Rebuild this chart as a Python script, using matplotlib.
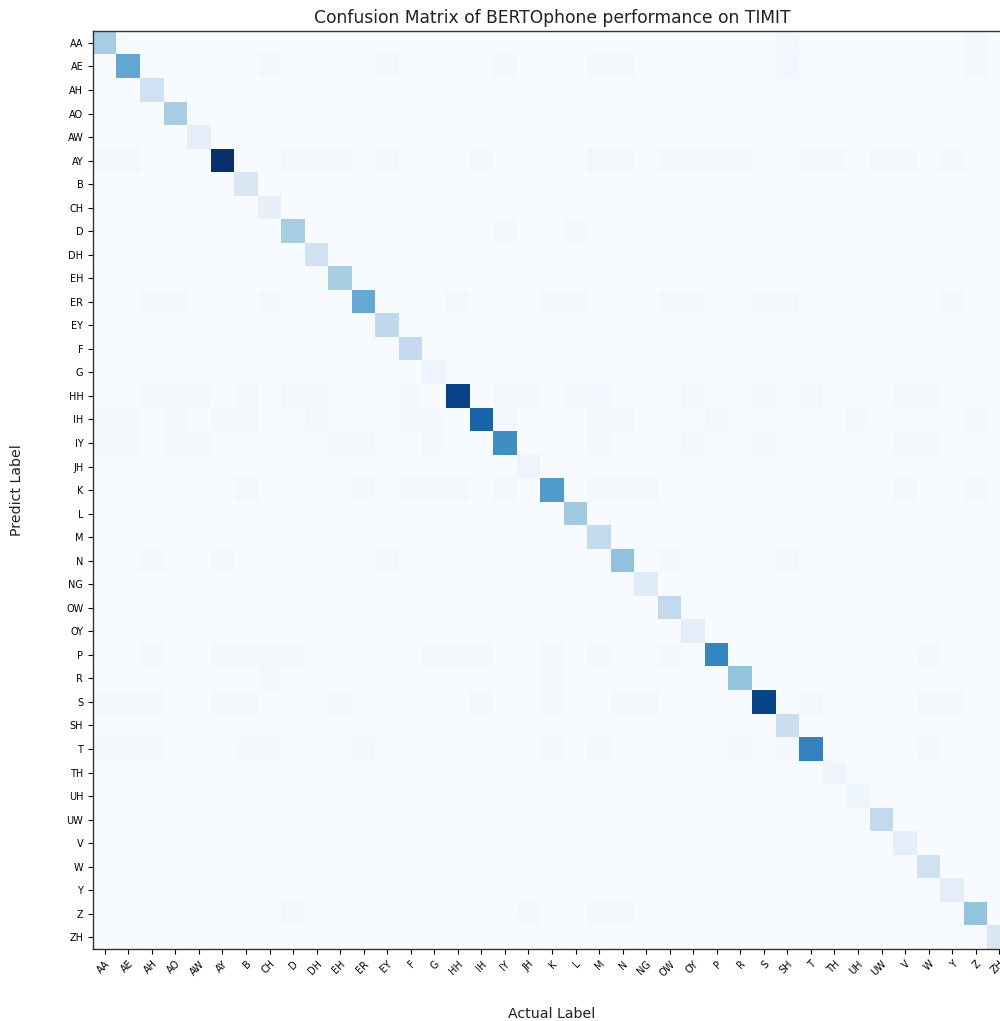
import numpy as np
import matplotlib
matplotlib.use('Agg')
import matplotlib.pyplot as plt

labels = ['AA', 'AE', 'AH', 'AO', 'AW', 'AY', 'B', 'CH', 'D', 'DH', 'EH', 'ER', 'EY',
          'F', 'G', 'HH', 'IH', 'IY', 'JH', 'K', 'L', 'M', 'N', 'NG', 'OW', 'OY',
          'P', 'R', 'S', 'SH', 'T', 'TH', 'UH', 'UW', 'V', 'W', 'Y', 'Z', 'ZH']

diag = [0.35, 0.53, 0.20, 0.35, 0.10, 1.00, 0.15, 0.08, 0.35, 0.20, 0.34, 0.52, 0.27,
        0.25, 0.05, 0.93, 0.80, 0.64, 0.05, 0.58, 0.36, 0.26, 0.41, 0.12, 0.26, 0.10,
        0.67, 0.40, 0.92, 0.22, 0.68, 0.05, 0.04, 0.26, 0.10, 0.20, 0.10, 0.40, 0.15]

# faint off-diagonal confusions: (row, col, value)
off_rows = [0, 0, 1, 1, 1, 1, 1, 1, 1,
            5, 5, 5, 5, 5, 5, 5, 5, 5, 5, 5, 5, 5, 5, 5, 5, 5, 5,
            8, 8,
            11, 11, 11, 11, 11, 11, 11, 11, 11, 11, 11,
            15, 15, 15, 15, 15, 15, 15, 15, 15, 15, 15, 15, 15, 15, 15, 15,
            16, 16, 16, 16, 16, 16, 16, 16, 16, 16, 16, 16, 16, 16,
            17, 17, 17, 17, 17, 17, 17, 17, 17, 17, 17, 17,
            19, 19, 19, 19, 19, 19, 19, 19, 19, 19, 19,
            22, 22, 22, 22, 22,
            26, 26, 26, 26, 26, 26, 26, 26, 26, 26, 26, 26,
            27, 27,
            28, 28, 28, 28, 28, 28, 28, 28, 28, 28, 28, 28, 28,
            30, 30, 30, 30, 30, 30, 30, 30, 30, 30, 30,
            37, 37, 37, 37]
off_cols = [29, 37, 7, 12, 17, 21, 22, 29, 37,
            0, 1, 8, 9, 10, 12, 16, 21, 22, 24, 25, 26, 27, 30, 31, 33, 34, 36,
            17, 20,
            2, 3, 7, 15, 19, 20, 24, 25, 28, 29, 36,
            2, 3, 4, 6, 8, 9, 13, 17, 18, 20, 21, 25, 28, 30, 34, 35,
            0, 1, 3, 5, 6, 9, 13, 14, 17, 21, 22, 26, 32, 37,
            0, 1, 3, 4, 10, 11, 14, 21, 25, 28, 34, 35,
            6, 11, 13, 14, 15, 17, 21, 22, 23, 34, 37,
            2, 5, 12, 24, 29,
            2, 5, 6, 7, 8, 14, 15, 16, 19, 21, 24, 35,
            7, 19,
            0, 1, 2, 5, 6, 10, 16, 19, 22, 23, 30, 35, 36,
            0, 1, 2, 6, 7, 11, 19, 21, 27, 29, 35,
            8, 18, 21, 22]
off_vals = [0.02, 0.02, 0.02, 0.02, 0.02, 0.02, 0.02, 0.03, 0.02,
            0.03, 0.03, 0.02, 0.02, 0.02, 0.02, 0.02, 0.03, 0.02, 0.02, 0.02, 0.02, 0.02, 0.02, 0.02, 0.02, 0.02, 0.02,
            0.02, 0.02,
            0.02, 0.02, 0.02, 0.02, 0.02, 0.02, 0.02, 0.02, 0.02, 0.02, 0.02,
            0.02, 0.02, 0.02, 0.02, 0.02, 0.02, 0.02, 0.02, 0.02, 0.02, 0.03, 0.02, 0.02, 0.02, 0.02, 0.02,
            0.02, 0.02, 0.02, 0.02, 0.02, 0.02, 0.02, 0.02, 0.02, 0.02, 0.02, 0.02, 0.02, 0.02,
            0.02, 0.02, 0.02, 0.02, 0.02, 0.02, 0.02, 0.02, 0.02, 0.02, 0.02, 0.02,
            0.02, 0.02, 0.02, 0.02, 0.02, 0.02, 0.02, 0.02, 0.02, 0.02, 0.02,
            0.02, 0.02, 0.02, 0.02, 0.02,
            0.02, 0.02, 0.02, 0.02, 0.02, 0.02, 0.02, 0.02, 0.02, 0.02, 0.02, 0.02,
            0.02, 0.02,
            0.02, 0.02, 0.02, 0.02, 0.02, 0.02, 0.02, 0.02, 0.02, 0.02, 0.02, 0.02, 0.02,
            0.02, 0.02, 0.02, 0.02, 0.02, 0.02, 0.02, 0.02, 0.02, 0.02, 0.02,
            0.02, 0.02, 0.02, 0.02]

n = len(labels)
cm = np.zeros((n, n))
cm[np.arange(n), np.arange(n)] = diag
cm[off_rows, off_cols] = off_vals

fig = plt.figure(figsize=(10, 10.21), dpi=100)
# the axes runs past the right edge of the figure, as in the reference
ax = fig.add_axes([0.093, 0.0705, 0.918, 0.899])
ax.imshow(cm, cmap='Blues', interpolation='nearest', aspect='auto')

ax.set_xticks(np.arange(n))
ax.set_yticks(np.arange(n))
ax.set_xticklabels(labels, rotation=45, ha='right', rotation_mode='anchor', fontsize=7)
ax.set_yticklabels(labels, fontsize=7)
for sp in ax.spines.values():
    sp.set_linewidth(1.0)
    sp.set_color('#333333')
ax.set_title('Confusion Matrix of BERTOphone performance on TIMIT', fontsize=12.3, color='#222222')
ax.set_xlabel('Actual Label', fontsize=10.2, labelpad=21, color='#222222')
ax.set_ylabel('Predict Label', fontsize=10.2, labelpad=30, color='#222222')

fig.savefig('out.png', dpi=100)
